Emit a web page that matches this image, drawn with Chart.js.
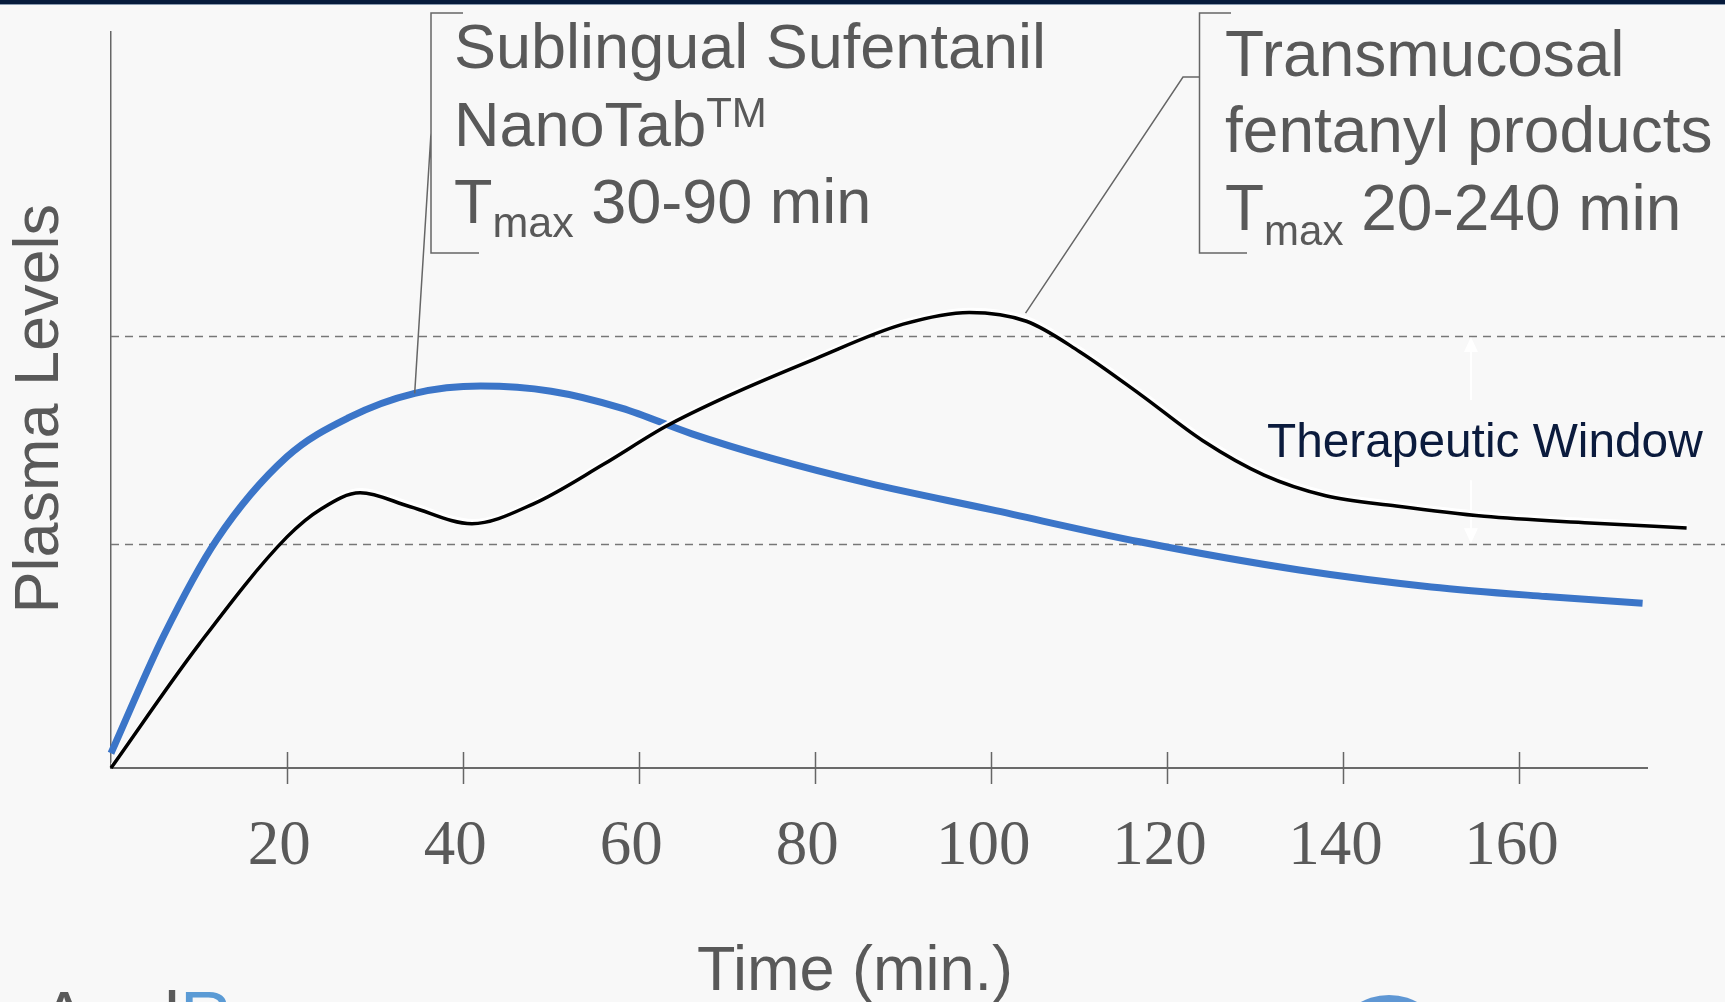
<!DOCTYPE html>
<html lang="en">
<head>
<meta charset="utf-8">
<title>Plasma Levels vs Time</title>
<script src="https://cdn.jsdelivr.net/npm/chart.js@4.4.0/dist/chart.umd.min.js"></script>
<style>
  html, body { margin: 0; padding: 0; background: #f8f8f8; overflow: hidden; }
  .topbar { position: absolute; left: 0; top: 0; width: 100%; height: 4px; background: #071b3c; border-bottom: 1px solid #8a9bb0; z-index: 2; }
  .chart-wrap { position: relative; width: 1725px; height: 1002px; }
</style>
</head>
<body>
<div class="topbar"></div>
<div class="chart-wrap"><canvas id="plasmaChart"></canvas></div>
<script>
// --- Data ---
const timeTicks = [20, 40, 60, 80, 100, 120, 140, 160];

const sufentanilTimes = [0, 6, 12, 20, 27, 34.5, 42, 50, 58, 66, 75, 86, 100, 117, 135, 150, 163, 174];
const sufentanilLevels = [2, 18, 31, 42.3, 47.6, 50.9, 51.9, 51.2, 48.9, 45.4, 42.1, 38.7, 35.1, 30.7, 26.9, 24.6, 23.3, 22.4];

const fentanylTimes = [0, 10, 20, 24, 28.3, 34, 41, 48, 56, 63, 70, 80, 90, 97.5, 104, 110, 117, 124, 131, 138, 146, 156, 168, 179];
const fentanylLevels = [0, 16.8, 31.4, 35.3, 37.4, 35.5, 33.2, 35.9, 41.3, 46.4, 50.5, 55.6, 60.3, 61.9, 60.7, 56.6, 50.7, 44.5, 39.8, 37.0, 35.6, 34.2, 33.3, 32.6];

// lower / upper limit of the therapeutic window
const windowLevels = [30.4, 58.7];

// where the callouts touch the curves, and where the window arrow sits
const sufentanilCallout = [34.5, 50.9];
const fentanylCallout = [103.9, 61.8];
const arrowTime = 154.5;

function toPoints(xs, ys) {
    return xs.map((x, i) => ({ x: x, y: ys[i] }));
}

document.addEventListener('DOMContentLoaded', function () {

    const GREY = '#595959';
    const SANS = '"Liberation Sans", Arial, sans-serif';

    function font(size) {
        return size + 'px ' + SANS;
    }

    // draws text pieces one after another (for sub / superscripts)
    function drawRuns(ctx, x, baseline, runs) {
        runs.forEach(function (r) {
            ctx.font = font(r.size);
            ctx.fillText(r.text, x, baseline + (r.dy || 0));
            x += ctx.measureText(r.text).width;
        });
    }

    // --- Plugins ---
    const haloPlugin = {
        id: 'halo',
        beforeDatasetDraw(chart, args) {
            if (args.index !== 0) return;
            const ctx = chart.ctx;
            ctx.save();
            ctx.shadowColor = '#ffffff';
            ctx.shadowBlur = 0;
            ctx.shadowOffsetX = 1;
            ctx.shadowOffsetY = -3;
        },
        afterDatasetDraw(chart, args) {
            if (args.index !== 0) return;
            chart.ctx.restore();
        }
    };

    const overlayPlugin = {
        id: 'overlay',
        beforeDatasetsDraw(chart) {
            const { ctx, chartArea, scales: { x, y } } = chart;
            ctx.save();

            // dashed window limits
            ctx.strokeStyle = '#777';
            ctx.lineWidth = 1.5;
            ctx.setLineDash([8, 6]);
            windowLevels.forEach(function (v) {
                const py = Math.round(y.getPixelForValue(v)) + 0.5;
                ctx.beginPath();
                ctx.moveTo(chartArea.left, py);
                ctx.lineTo(chart.width, py);
                ctx.stroke();
            });
            ctx.setLineDash([]);

            // white double arrow
            const ax = x.getPixelForValue(arrowTime);
            const top = y.getPixelForValue(windowLevels[1]);
            const bot = y.getPixelForValue(windowLevels[0]);
            ctx.strokeStyle = '#ffffff';
            ctx.fillStyle = '#ffffff';
            ctx.lineWidth = 2;
            ctx.beginPath();
            ctx.moveTo(ax, top + 14); ctx.lineTo(ax, top + 64);
            ctx.moveTo(ax, bot - 64); ctx.lineTo(ax, bot - 14);
            ctx.stroke();
            ctx.beginPath();
            ctx.moveTo(ax, top + 1); ctx.lineTo(ax - 7, top + 16); ctx.lineTo(ax + 7, top + 16); ctx.closePath();
            ctx.moveTo(ax, bot - 1); ctx.lineTo(ax - 7, bot - 16); ctx.lineTo(ax + 7, bot - 16); ctx.closePath();
            ctx.fill();

            ctx.restore();
        },
        afterDraw(chart) {
            const { ctx, chartArea, scales: { x, y } } = chart;
            ctx.save();

            // tick marks crossing the time axis
            ctx.strokeStyle = '#666';
            ctx.lineWidth = 1.5;
            timeTicks.forEach(function (t) {
                const px = Math.round(x.getPixelForValue(t)) + 0.5;
                ctx.beginPath();
                ctx.moveTo(px, chartArea.bottom - 16);
                ctx.lineTo(px, chartArea.bottom + 16);
                ctx.stroke();
            });

            // callout brackets + leaders
            ctx.strokeStyle = '#666';
            ctx.lineWidth = 1.5;
            ctx.beginPath();
            ctx.moveTo(463, 13); ctx.lineTo(431, 13); ctx.lineTo(431, 253); ctx.lineTo(479, 253);
            ctx.moveTo(431, 133);
            ctx.lineTo(x.getPixelForValue(sufentanilCallout[0]), y.getPixelForValue(sufentanilCallout[1]));
            ctx.stroke();

            ctx.beginPath();
            ctx.moveTo(1231, 13); ctx.lineTo(1199.5, 13); ctx.lineTo(1199.5, 253); ctx.lineTo(1247, 253);
            ctx.moveTo(1199.5, 77); ctx.lineTo(1183, 77);
            ctx.lineTo(x.getPixelForValue(fentanylCallout[0]), y.getPixelForValue(fentanylCallout[1]));
            ctx.stroke();

            // callout texts
            ctx.fillStyle = GREY;
            ctx.textAlign = 'left';
            ctx.textBaseline = 'alphabetic';
            drawRuns(ctx, 454, 68, [{ text: 'Sublingual Sufentanil', size: 63 }]);
            drawRuns(ctx, 454, 146, [{ text: 'NanoTab', size: 63 }, { text: 'TM', size: 42, dy: -19 }]);
            drawRuns(ctx, 454, 223, [{ text: 'T', size: 63 }, { text: 'max', size: 43, dy: 14 }, { text: ' 30-90 min', size: 63 }]);

            drawRuns(ctx, 1225, 76, [{ text: 'Transmucosal', size: 64 }]);
            drawRuns(ctx, 1225, 152, [{ text: 'fentanyl products', size: 64 }]);
            drawRuns(ctx, 1225, 230, [{ text: 'T', size: 64 }, { text: 'max', size: 42, dy: 15 }, { text: ' 20-240 min', size: 64 }]);

            // window label
            ctx.fillStyle = '#0b1b3d';
            drawRuns(ctx, 1267, 457, [{ text: 'Therapeutic Window', size: 47.8 }]);

            // time axis title
            ctx.fillStyle = GREY;
            ctx.font = font(63);
            ctx.textAlign = 'center';
            ctx.fillText('Time (min.)', 855, 990);

            // logo fragments cut off at the bottom edge
            ctx.textAlign = 'left';
            ctx.font = font(72);
            ctx.fillStyle = '#5a5a5a';
            ctx.fillText('Acel', 40, 1042);
            ctx.fillStyle = '#5b9bd5';
            ctx.fillText('Rx', 40 + ctx.measureText('Acel').width, 1042);
            ctx.fillStyle = '#5f97d4';
            ctx.beginPath();
            ctx.ellipse(1389, 1032, 48, 37, 0, 0, Math.PI * 2);
            ctx.fill();

            ctx.restore();
        }
    };

    // --- Chart ---
    const ctx = document.getElementById('plasmaChart').getContext('2d');
    new Chart(ctx, {
        type: 'line',
        data: {
            datasets: [{
                label: 'Transmucosal fentanyl products',
                data: toPoints(fentanylTimes, fentanylLevels),
                borderColor: '#000000',
                borderWidth: 3.5,
                order: 0,
                clip: false
            }, {
                label: 'Sublingual Sufentanil NanoTab',
                data: toPoints(sufentanilTimes, sufentanilLevels),
                borderColor: '#3b75c8',
                borderWidth: 7,
                borderCapStyle: 'butt',
                order: 1,
                clip: false
            }]
        },
        options: {
            responsive: true,
            maintainAspectRatio: false,
            animation: false,
            layout: { padding: { top: 32, right: 78, left: 0, bottom: 0 } },
            elements: {
                point: { radius: 0 },
                line: { cubicInterpolationMode: 'monotone', fill: false }
            },
            plugins: { legend: { display: false }, tooltip: { enabled: false } },
            scales: {
                x: {
                    type: 'linear',
                    min: 0,
                    max: 174.5,
                    grid: { display: false, drawTicks: false },
                    border: { color: '#6a6a6a', width: 2 },
                    ticks: {
                        stepSize: 20,
                        includeBounds: false,
                        autoSkip: false,
                        maxRotation: 0,
                        padding: 42,
                        color: GREY,
                        font: { family: 'Liberation Serif', size: 63 },
                        callback: function (v) { return timeTicks.includes(v) ? v + ' ' : ''; }
                    },
                    afterFit: function (scale) { scale.height = 234; }
                },
                y: {
                    min: 0,
                    max: 100,
                    grid: { display: false, drawTicks: false },
                    border: { color: '#666', width: 1.5 },
                    ticks: { display: false },
                    title: {
                        display: true,
                        text: 'Plasma Levels ',
                        color: GREY,
                        font: { family: 'Liberation Sans', size: 63 },
                        padding: { top: 3, bottom: 0 }
                    },
                    afterFit: function (scale) { scale.width = 111; }
                }
            }
        },
        plugins: [haloPlugin, overlayPlugin]
    });

});
</script>
</body>
</html>
